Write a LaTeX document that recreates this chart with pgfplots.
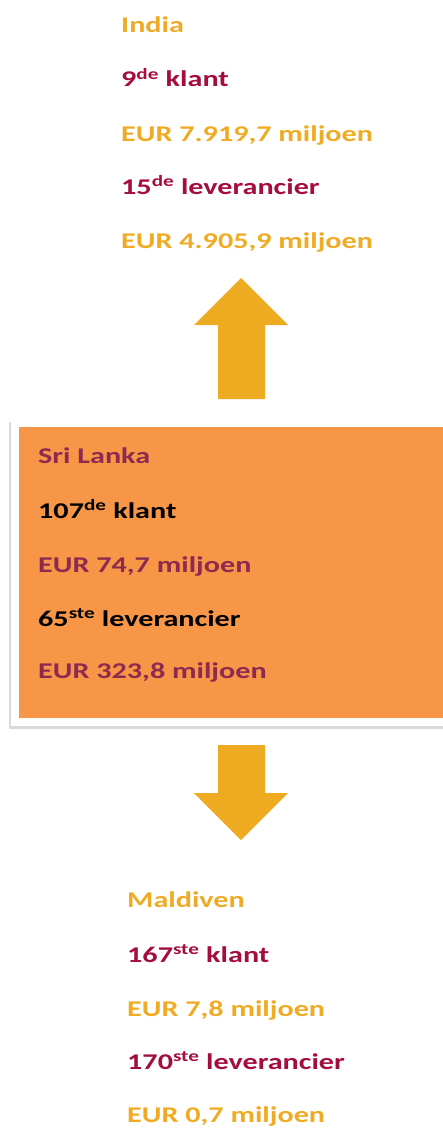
\documentclass[border=0pt]{standalone}
\usepackage{pgfplots}
\pgfplotsset{compat=1.18}
\usepackage{fontspec}
\setmainfont{Carlito}[FakeStretch=1.34]
\definecolor{gold}{HTML}{F0AB24}
\definecolor{maroon}{HTML}{A50D40}
\definecolor{boxorange}{HTML}{F79646}
\definecolor{slmaroon}{HTML}{8E2A50}
\definecolor{arrowgold}{HTML}{EEAB22}
\tikzset{lbl/.style={font=\fontsize{22.5}{26}\selectfont\bfseries, anchor=base west, inner sep=0pt}}
\begin{document}
\begin{tikzpicture}
\begin{axis}[
  width=443pt, height=1129pt, scale only axis,
  xmin=0, xmax=443, ymin=0, ymax=1129, y dir=reverse,
  hide axis, clip=true,
]
% up arrow
\addplot[fill=arrowgold, draw=none] coordinates {(241,278) (288,325) (265,325) (265,399) (218,399) (218,325) (194,325) (241,278)} -- cycle;
% down arrow
\addplot[fill=arrowgold, draw=none] coordinates {(218,745) (265,745) (265,793) (288,793) (241,840) (194,793) (218,793) (218,745)} -- cycle;
% box shadow, frame, fill
\addplot[fill=black!15, draw=none] coordinates {(9,422) (450,422) (450,729) (9,729)} -- cycle;
\addplot[fill=white, draw=none] coordinates {(11,420) (450,420) (450,726) (11,726)} -- cycle;
\addplot[fill=boxorange, draw=none] coordinates {(19,427) (450,427) (450,718) (19,718)} -- cycle;
% India
\node[lbl, text=gold] at (axis cs:121,33) {India};
\node[lbl, text=maroon] at (axis cs:121,87) {9\textsuperscript{de} klant};
\node[lbl, text=gold] at (axis cs:121,141) {EUR 7.919,7 miljoen};
\node[lbl, text=maroon] at (axis cs:121,194) {15\textsuperscript{de} leverancier};
\node[lbl, text=gold] at (axis cs:121,248) {EUR 4.905,9 miljoen};
% Sri Lanka
\node[lbl, text=slmaroon] at (axis cs:38,463) {Sri Lanka};
\node[lbl, text=black] at (axis cs:38,518) {107\textsuperscript{de} klant};
\node[lbl, text=slmaroon] at (axis cs:38,572) {EUR 74,7 miljoen};
\node[lbl, text=black] at (axis cs:38,626) {65\textsuperscript{ste} leverancier};
\node[lbl, text=slmaroon] at (axis cs:38,678) {EUR 323,8 miljoen};
% Maldiven
\node[lbl, text=gold] at (axis cs:127,907) {Maldiven};
\node[lbl, text=maroon] at (axis cs:127,962) {167\textsuperscript{ste} klant};
\node[lbl, text=gold] at (axis cs:127,1016) {EUR 7,8 miljoen};
\node[lbl, text=maroon] at (axis cs:127,1069) {170\textsuperscript{ste} leverancier};
\node[lbl, text=gold] at (axis cs:127,1122) {EUR 0,7 miljoen};
\end{axis}
\path[use as bounding box] (current axis.south west) rectangle (current axis.north east);
\end{tikzpicture}
\end{document}
